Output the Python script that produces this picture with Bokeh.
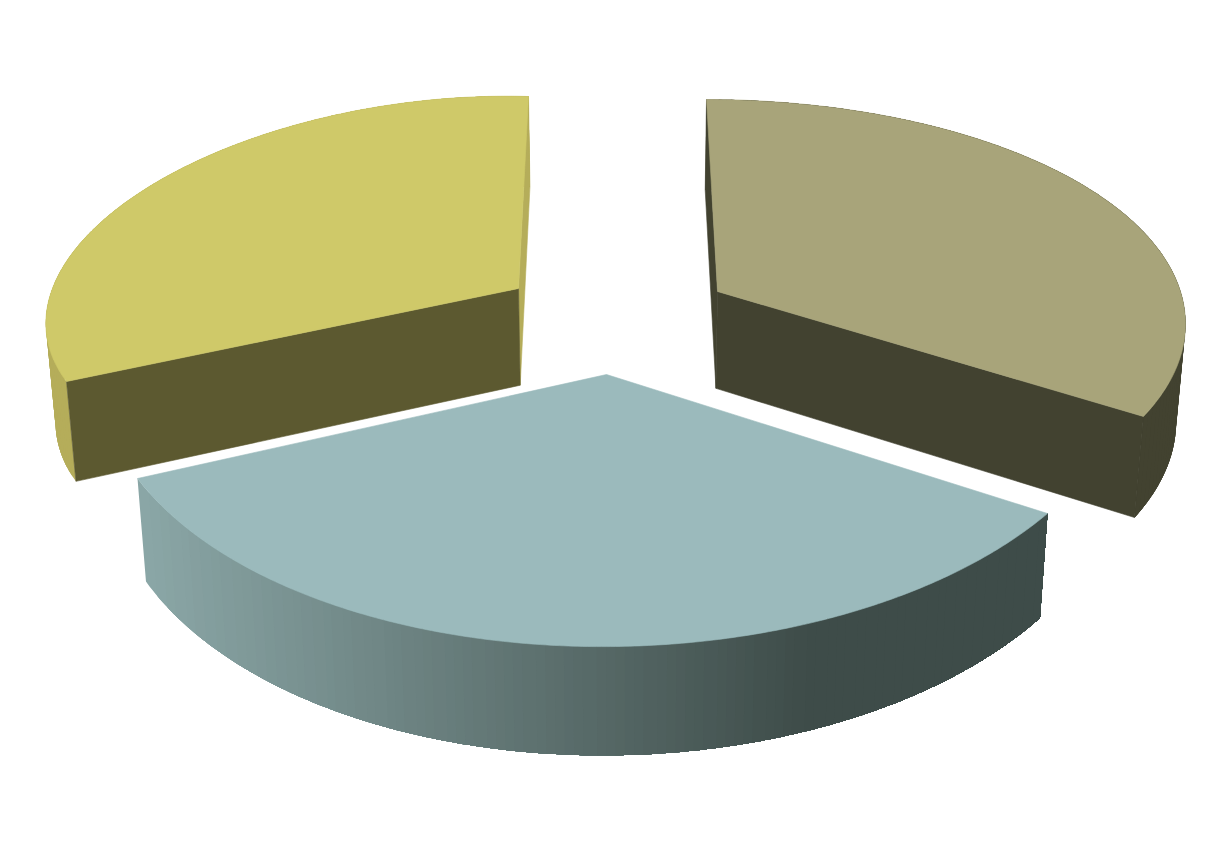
import numpy as np
from bokeh.plotting import figure
from bokeh.embed import file_html
from bokeh.resources import INLINE

# data
slice_names = ["Right", "Bottom", "Left"]
slice_values = [33.3, 33.3, 33.4]
top_colors = ["#a8a47a", "#9bbabc", "#cfc969"]
outer_colors = ["#424230", None, "#b5ad5a"]
start_face_colors = ["#424230", None, "#5c5930"]
end_face_colors = ["#424230", None, "#b5ad5a"]
gradient_left = "#8ba7a7"
gradient_right = "#3e4c49"

# perspective calibration of each slice's view:
# apex, arc start, arc end, arc middle, meeting point of the arc's end tangents
view_apex = [[717, 291], [606, 374], [518, 288]]
view_start = [[706, 99], [1047, 513], [66, 381]]
view_end = [[1143, 416], [137, 478], [528, 96]]
view_mid = [[1109.0, 202.0], [568.0, 645.5], [148.0, 186.5]]
view_pole = [[1441.97, 100.31], [508.93, 966.70], [-165.56, 75.70]]


def homography(src, dst):
    A, b = [], []
    for (x, y), (u, v) in zip(src, dst):
        A.append([x, y, 1, 0, 0, 0, -u * x, -u * y]); b.append(u)
        A.append([0, 0, 0, x, y, 1, -v * x, -v * y]); b.append(v)
    h = np.linalg.solve(np.array(A, float), np.array(b, float))
    return np.append(h, 1).reshape(3, 3)


def project(H, wx, wy):
    w = H[2, 0] * wx + H[2, 1] * wy + H[2, 2]
    return (H[0, 0] * wx + H[0, 1] * wy + H[0, 2]) / w, (H[1, 0] * wx + H[1, 1] * wy + H[1, 2]) / w


def extrude(x, y):
    d = 0.0335 * (y + 2600)
    return x + (622 - x) * d / 5900, y + d


def hexmix(a, b, t):
    ca = [int(a[i:i + 2], 16) for i in (1, 3, 5)]
    cb = [int(b[i:i + 2], 16) for i in (1, 3, 5)]
    return "#%02x%02x%02x" % tuple(round(p + (q - p) * t) for p, q in zip(ca, cb))


W, Hgt = 1200, 800
p = figure(width=W, height=Hgt, x_range=(0, W), y_range=(Hgt, 0), output_backend="svg",
           toolbar_location=None, min_border=0, outline_line_color=None, background_fill_color="white")
p.axis.visible = False
p.grid.visible = False


def poly(xs, ys, color, lw=0.6):
    p.patch(list(xs), list(ys), fill_color=color, line_color=color, line_width=lw)


total = sum(slice_values)
angle = 0.0
for i, v in enumerate(slice_values):
    span = v / total * 2 * np.pi
    a0, a1 = angle, angle + span
    am = angle + span / 2
    angle += span
    pole_r = 1 / np.cos(span / 2)
    src = [[np.sin(a0), np.cos(a0)], [np.sin(a1), np.cos(a1)], [np.sin(am), np.cos(am)],
           [pole_r * np.sin(am), pole_r * np.cos(am)]]
    H = homography(src, [view_start[i], view_end[i], view_mid[i], view_pole[i]])
    th = np.linspace(a0, a1, 241)
    tx, ty = project(H, np.sin(th), np.cos(th))
    bx, by = extrude(tx, ty)
    ax, ay = view_apex[i]
    abx, aby = extrude(ax, ay)
    # outer wall: overlapping bands so that no seams show
    if outer_colors[i] is not None:
        n = len(th)
        for k in range(0, n - 1, 3):
            e = min(k + 12, n - 1)
            poly(np.r_[tx[k:e + 1], bx[k:e + 1][::-1]], np.r_[ty[k:e + 1], by[k:e + 1][::-1]],
                 outer_colors[i], 0)
    else:
        # shaded wall, painted left to right so that neighbouring bands overlap
        edges = np.linspace(tx.min(), tx.max(), 91)
        for e0 in edges[:-1]:
            mask = tx >= e0
            xc = e0 + (edges[1] - edges[0]) / 2
            t = min(1.0, max(0.0, (xc - 137) / (805 - 137)))
            poly(np.r_[tx[mask], bx[mask][::-1]], np.r_[ty[mask], by[mask][::-1]],
                 hexmix(gradient_left, gradient_right, t), 0)
    # radial faces
    if end_face_colors[i] is not None:
        poly([ax, tx[-1], bx[-1], abx], [ay, ty[-1], by[-1], aby], end_face_colors[i])
    if start_face_colors[i] is not None:
        poly([ax, tx[0], bx[0], abx], [ay, ty[0], by[0], aby], start_face_colors[i])
    # top
    poly(np.r_[ax, tx], np.r_[ay, ty], top_colors[i], 0.6)

open("out.html", "w").write(file_html(p, INLINE))
